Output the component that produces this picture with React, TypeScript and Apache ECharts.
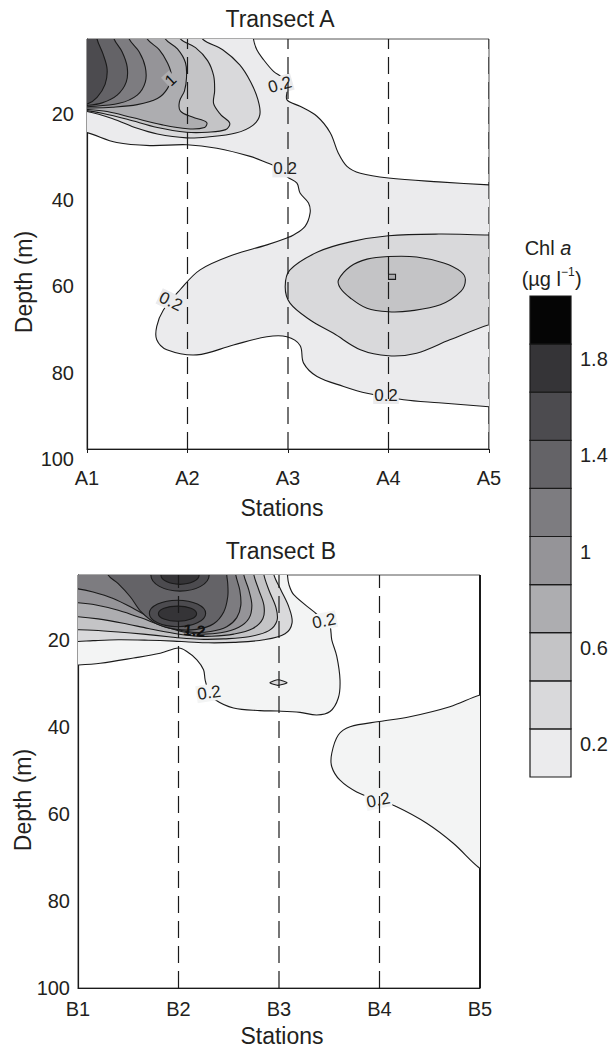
import React, { useEffect, useRef } from 'react';
import * as echarts from 'echarts';

// ---------- data ----------
const stationsA = ['A1', 'A2', 'A3', 'A4', 'A5'];
const stationsB = ['B1', 'B2', 'B3', 'B4', 'B5'];
const depthTicks = [20, 40, 60, 80, 100];
const depthMin = 5;
const depthMax = 100;
const levels = [0.2, 0.4, 0.6, 0.8, 1.0, 1.2, 1.4, 1.6, 1.8, 2.0];
const levelColors = ['#ebebed', '#d9d9db', '#c4c4c6', '#adadb0', '#959498', '#7d7c80', '#646367', '#4c4b4f', '#353437', '#050505'];
const levelColorsB = ['#f3f4f4', '#d9d9db', '#c4c4c6', '#adadb0', '#959498', '#7d7c80', '#646367', '#4c4b4f', '#353437', '#050505'];
const colorbarLabels = [0.2, 0.6, 1, 1.4, 1.8];
const dashedStationsA = [1, 2, 3, 4];
const dashedStationsB = [1, 2, 3];

// Transect A contour boundaries, points are [station index, depth (m)]
const A_c02 = [[-0.1,3],[1.656,3],[1.656,5],[1.69,7.5],[1.757,9.8],[1.856,12.5],[1.955,14.2],[1.99,16.8],[1.99,19.1],[2.12,20.6],[2.288,22.9],[2.42,26.7],[2.5,31.4],[2.587,34.5],[2.72,36.1],[3.0,37.2],[3.5,38.1],[4.0,38.8],[4.1,38.9],[4.1,90.3],[4.0,90.2],[3.5,89.3],[3.15,88.6],[2.786,87.1],[2.553,85.5],[2.289,83.2],[2.155,80.1],[2.12,76.0],[1.989,74.0],[1.79,74.0],[1.457,75.9],[1.093,78.2],[0.794,77.0],[0.694,74.7],[0.694,71.6],[0.76,67.8],[0.926,63.1],[1.125,58.5],[1.457,55.0],[1.79,52.7],[1.989,51.1],[2.055,50.4],[2.17,48.4],[2.22,45.3],[2.204,43.0],[2.12,40.7],[2.089,38.4],[1.989,36.9],[1.95,35.3],[1.79,33.7],[1.624,32.2],[1.292,30.3],[0.993,29.5],[0.627,29.7],[0.296,29.0],[0,26.7],[-0.1,26.5]];
const A_top04 = [[-0.1,3],[1.15,3],[1.15,5],[1.35,7.5],[1.52,11],[1.63,15],[1.7,19],[1.72,22.5],[1.65,25],[1.48,26.8],[1.2,27.7],[0.99,27.9],[0.7,27.0],[0.5,25.7],[0.25,23.4],[0,21.8],[-0.1,21.8]];
const A_blob04 = [[4.1,50.3],[4.0,50.4],[3.5,50.2],[3.0,50.6],[2.62,52.0],[2.3,54.3],[2.02,58.5],[1.972,62.4],[2.02,66.2],[2.22,70.1],[2.453,73.2],[2.72,77.0],[3.0,78.4],[3.28,77.8],[3.61,74.7],[4.0,71.2],[4.1,71.0]];
const A_top06 = [[-0.1,3],[0.93,3],[0.93,5],[1.08,7],[1.2,10],[1.26,13.5],[1.27,17],[1.26,20],[1.33,22.5],[1.42,24.5],[1.38,26],[1.2,26.6],[0.99,26.6],[0.7,25.5],[0.4,23.6],[0.15,22.2],[0,21.6],[-0.1,21.6]];
const A_blob06 = [[2.503,60.8],[2.62,57.7],[2.786,56.0],[3.0,55.4],[3.28,55.5],[3.55,56.9],[3.72,58.9],[3.765,60.8],[3.72,63.5],[3.516,66.6],[3.217,68.0],[3.0,68.2],[2.786,67.4],[2.62,65.0],[2.52,62.7]];
const A_top08 = [[-0.1,3],[0.78,3],[0.78,5],[0.9,7.3],[0.98,10.5],[0.99,14],[0.97,17],[0.92,19.5],[0.93,21.7],[1.05,23.1],[1.19,24.3],[1.17,25.5],[1.0,25.8],[0.75,24.9],[0.45,23.2],[0.2,21.8],[0,21.3],[-0.1,21.3]];
const A_blob08 = [[3.0,59.5],[3.07,59.5],[3.07,60.7],[3.0,60.7]];
const A_top10 = [[-0.1,3],[0.6,3],[0.6,5],[0.72,7.5],[0.8,10.5],[0.84,13.5],[0.8,16.5],[0.7,18.8],[0.5,20.2],[0.25,20.8],[0,21.0],[-0.1,21.0]];
const A_top12 = [[-0.1,3],[0.42,3],[0.42,5],[0.52,8],[0.58,11.5],[0.58,15],[0.5,18],[0.32,19.9],[0,20.7],[-0.1,20.7]];
const A_top14 = [[-0.1,3],[0.27,3],[0.27,5],[0.35,8],[0.4,11.5],[0.39,15],[0.3,18],[0.15,19.8],[0,20.4],[-0.1,20.4]];
const A_top16 = [[-0.1,3],[0.1,3],[0.1,5],[0.16,8.5],[0.2,12],[0.18,15.5],[0.1,18.5],[0,20.1],[-0.1,20.1]];

// Transect B contour boundaries
const B_c02 = [[-0.1,3],[2.084,3],[2.084,5],[2.1,7.3],[2.149,9.6],[2.35,13.5],[2.465,15.8],[2.508,16.8],[2.525,19.9],[2.575,23.7],[2.607,29.1],[2.59,33.3],[2.508,36.4],[2.376,37.2],[2.21,36.6],[1.994,36.3],[1.81,36.2],[1.547,35.6],[1.365,33.7],[1.3,31.8],[1.265,29.1],[1.249,26.8],[1.183,24.5],[1.083,22.6],[1.0,21.8],[0.818,23.0],[0.553,24.1],[0.222,25.3],[0,25.7],[-0.1,25.7]];
const B_c02east = [[4.1,32.4],[4.0,32.6],[3.7,35.3],[3.302,37.6],[2.998,38.7],[2.707,39.9],[2.59,41.8],[2.525,46.0],[2.525,49.1],[2.607,52.2],[2.773,54.9],[2.988,56.8],[3.171,58.3],[3.47,62.1],[3.734,66.7],[4.0,72.5],[4.1,73.2]];
const B_lens04 = [[1.91,29.8],[1.99,29.1],[2.08,29.8],[1.99,30.4]];
const B_04 = [[-0.1,3],[1.95,3],[1.95,5],[2.02,8.5],[2.1,12.5],[2.13,16.0],[2.06,18.5],[1.85,19.9],[1.55,20.5],[1.3,20.6],[1.1,20.4],[0.95,20.2],[0.7,20.0],[0.4,19.9],[0.15,20.1],[0,20.3],[-0.1,20.3]];
const B_06 = [[-0.1,3],[1.85,3],[1.85,5],[1.9,8.5],[1.97,12.5],[1.98,15.5],[1.9,17.8],[1.7,19.2],[1.45,19.7],[1.25,19.8],[1.08,19.6],[0.9,19.2],[0.65,18.6],[0.4,18.1],[0.15,17.7],[0,17.6],[-0.1,17.6]];
const B_08 = [[-0.1,3],[1.75,3],[1.75,5],[1.8,8.5],[1.85,12.0],[1.84,15.0],[1.74,17.3],[1.55,18.6],[1.33,19.1],[1.15,19.0],[0.95,18.4],[0.7,17.3],[0.45,16.1],[0.2,15.1],[0,14.6],[-0.1,14.6]];
const B_10 = [[-0.1,3],[1.65,3],[1.65,5],[1.7,8.5],[1.73,12],[1.7,15],[1.6,17.0],[1.42,18.3],[1.22,18.6],[1.05,18.1],[0.85,16.8],[0.62,14.8],[0.4,13.1],[0.18,11.9],[0,11.4],[-0.1,11.4]];
const B_12 = [[-0.1,3],[1.57,3],[1.57,5],[1.61,8.5],[1.62,12],[1.58,14.8],[1.48,16.9],[1.32,18.0],[1.15,18.2],[0.98,17.5],[0.78,15.6],[0.56,12.8],[0.35,10.4],[0.15,8.9],[0,8.2],[-0.1,8.2]];
const B_14 = [[0.3,3],[0.3,5],[0.4,7.0],[0.52,10.0],[0.63,13.5],[0.78,16.2],[0.98,17.5],[1.18,17.5],[1.35,16.2],[1.45,13.5],[1.49,10],[1.49,7],[1.48,5],[1.48,3]];
// ellipses: [centre station, centre depth, radius (stations), radius (m)]
const B_ring16 = [0.99, 13.85, 0.28, 3.05];
const B_cap16 = [1.015, 5, 0.29, 3.7];
const B_core18 = [0.99, 13.9, 0.19, 1.75];
const B_cap18 = [1.015, 5, 0.19, 2.15];

const regionsA = [
  { level: 0, pts: A_c02 },
  { level: 1, pts: A_top04 }, { level: 1, pts: A_blob04 },
  { level: 2, pts: A_top06 }, { level: 2, pts: A_blob06 },
  { level: 3, pts: A_top08 }, { level: 3, pts: A_blob08, smooth: 0 },
  { level: 4, pts: A_top10 }, { level: 5, pts: A_top12 },
  { level: 6, pts: A_top14 }, { level: 7, pts: A_top16 },
];
const regionsB = [
  { level: 0, pts: B_c02 }, { level: 0, pts: B_c02east },
  { level: 1, pts: B_lens04, smooth: 0.2 },
  { level: 1, pts: B_04 }, { level: 2, pts: B_06 }, { level: 3, pts: B_08 },
  { level: 4, pts: B_10 }, { level: 5, pts: B_12 }, { level: 6, pts: B_14 },
  { level: 7, ellipse: B_ring16 }, { level: 7, ellipse: B_cap16 },
  { level: 8, ellipse: B_core18 }, { level: 8, ellipse: B_cap18 },
];

const labelsA = [
  { t: '0.2', s: 1.92, d: 15.6, rot: 0.28, bg: 0 },
  { t: '0.2', s: 1.972, d: 35.1, rot: 0, bg: 0 },
  { t: '0.2', s: 0.833, d: 65.8, rot: -0.45, bg: 0 },
  { t: '0.2', s: 2.975, d: 87.6, rot: 0, bg: 0 },
  { t: '1', s: 0.83, d: 14.5, rot: 0.75, bg: 3 },
];
const labelsB = [
  { t: '0.2', s: 2.448, d: 15.6, rot: 0.2, bg: 0 },
  { t: '0.2', s: 1.305, d: 32.1, rot: 0.15, bg: 0 },
  { t: '0.2', s: 2.988, d: 56.8, rot: 0.2, bg: 0 },
  { t: '1.2', s: 1.157, d: 17.8, rot: -0.1, bg: -1 },
];

// ---------- chart ----------
const FONT = '"Liberation Sans", Arial, Helvetica, sans-serif';
const INK = '#231f20';
const LINE = '#1a1a1a';

function contourSeries(regions: any[], palette: string[], idx: number) {
  return {
    type: 'custom',
    xAxisIndex: idx,
    yAxisIndex: idx,
    clip: true,
    z: 2,
    silent: true,
    data: regions.map(() => [2, 50]),
    renderItem: (params: any, api: any) => {
      const r = regions[params.dataIndex];
      const style = { fill: palette[r.level], stroke: LINE, lineWidth: 1.1 };
      if (r.ellipse) {
        const [cs, cd, rs, rd] = r.ellipse;
        const c = api.coord([cs, cd]);
        const sz = api.size([rs, rd]);
        return { type: 'ellipse', shape: { cx: c[0], cy: c[1], rx: Math.abs(sz[0]), ry: Math.abs(sz[1]) }, style };
      }
      return {
        type: 'polygon',
        shape: { points: r.pts.map((p: number[]) => api.coord(p)), smooth: r.smooth ?? 0.35 },
        style,
      };
    },
  };
}

function labelSeries(labels: any[], palette: string[], idx: number) {
  return {
    type: 'custom',
    xAxisIndex: idx,
    yAxisIndex: idx,
    clip: true,
    z: 3,
    silent: true,
    data: labels.map(() => [2, 50]),
    renderItem: (params: any, api: any) => {
      const l = labels[params.dataIndex];
      const p = api.coord([l.s, l.d]);
      return {
        type: 'text',
        x: p[0],
        y: p[1],
        rotation: l.rot,
        style: {
          text: l.t,
          fontSize: l.t === '0.2' ? 17 : 16,
          fontFamily: FONT,
          fontWeight: l.t === '1.2' ? 'bold' : 'normal',
          fill: l.t === '0.2' ? INK : '#111',
          align: 'center',
          verticalAlign: 'middle',
          backgroundColor: l.bg >= 0 ? palette[l.bg] : 'transparent',
          padding: [0, 1],
        },
      };
    },
  };
}

function dashedSeries(stations: number[], idx: number) {
  return {
    type: 'custom',
    xAxisIndex: idx,
    yAxisIndex: idx,
    clip: true,
    z: 4,
    silent: true,
    data: stations.map(() => [2, 50]),
    renderItem: (params: any, api: any) => {
      const s = stations[params.dataIndex];
      const p0 = api.coord([s, depthMax]);
      const p1 = api.coord([s, depthMin]);
      return {
        type: 'line',
        shape: { x1: p0[0], y1: p0[1], x2: p1[0], y2: p1[1] },
        style: { stroke: LINE, lineWidth: 1.2, lineDash: [17, 8] },
      };
    },
  };
}

function makeXAxis(idx: number, names: string[], margin: number, ticks: boolean) {
  return {
    type: 'value',
    gridIndex: idx,
    min: 0,
    max: 4,
    interval: 1,
    axisLine: { show: true, lineStyle: { color: LINE, width: 1.2 } },
    axisTick: { show: ticks, length: 4, lineStyle: { color: LINE } },
    axisLabel: {
      formatter: (v: number) => names[Math.round(v)] ?? '',
      fontSize: 20,
      fontFamily: FONT,
      color: INK,
      margin,
      verticalAlign: 'top',
    },
    splitLine: { show: false },
  };
}

function makeYAxis(idx: number, margin: number, vAlign: string) {
  return {
    type: 'value',
    gridIndex: idx,
    inverse: true,
    min: depthMin,
    max: depthMax,
    axisLine: { show: true, lineStyle: { color: LINE, width: 1.2 } },
    axisTick: { show: false },
    axisLabel: {
      customValues: depthTicks,
      fontSize: 20,
      fontFamily: FONT,
      color: INK,
      margin,
      verticalAlign: vAlign,
    },
    splitLine: { show: false },
  };
}

function textEl(text: string, x: number, y: number, fontSize: number, extra: any = {}) {
  return {
    type: 'text',
    x,
    y,
    ...extra,
    style: { text, fontSize, fontFamily: FONT, fill: INK, align: 'center', verticalAlign: 'middle', ...(extra.style || {}) },
  };
}

function colorbarGraphics() {
  const cbX = 530, cbTop = 296, cbW = 41, cbH = 48.1;
  const n = levels.length;
  const els: any[] = [];
  levels.forEach((lv, i) => {
    els.push({
      type: 'rect',
      shape: { x: cbX, y: cbTop + (n - 1 - i) * cbH, width: cbW, height: cbH },
      style: { fill: levelColors[i], stroke: LINE, lineWidth: 1.2 },
    });
  });
  colorbarLabels.forEach((v) => {
    const i = levels.findIndex((l) => Math.abs(l - v) < 1e-9);
    const cy = cbTop + (n - 1 - i) * cbH + cbH / 2 - 9;
    els.push(textEl(String(v), 580, cy, 20, { style: { align: 'left' } }));
  });
  els.push({
    type: 'text',
    x: 548,
    y: 248,
    style: {
      text: '{n|Chl }{i|a}',
      align: 'center',
      verticalAlign: 'middle',
      fill: INK,
      rich: {
        n: { fontSize: 20, fontFamily: FONT, fill: INK },
        i: { fontSize: 20, fontFamily: FONT, fontStyle: 'italic', fill: INK },
      },
    },
  });
  els.push(textEl('(µg l', 561, 279, 20, { style: { align: 'right' } }));
  els.push(textEl('−1', 561, 272, 12, { style: { align: 'left' } }));
  els.push(textEl(')', 575, 279, 20, { style: { align: 'left' } }));
  return els;
}

export default function App() {
  const ref = useRef<HTMLDivElement>(null);
  useEffect(() => {
    if (!ref.current) return;
    const chart = echarts.init(ref.current, undefined, { renderer: 'svg' });
    chart.setOption({
      animation: false,
      backgroundColor: '#ffffff',
      grid: [
        { left: 87, top: 39, width: 402, height: 410, show: true, borderColor: '#555', borderWidth: 1, backgroundColor: 'transparent' },
        { left: 78, top: 575, width: 402, height: 413, show: true, borderColor: '#555', borderWidth: 1, backgroundColor: 'transparent' },
      ],
      xAxis: [makeXAxis(0, stationsA, 19, true), makeXAxis(1, stationsB, 10.5, false)],
      yAxis: [makeYAxis(0, 13, 'top'), makeYAxis(1, 8, 'middle')],
      series: [
        contourSeries(regionsA, levelColors, 0),
        labelSeries(labelsA, levelColors, 0),
        dashedSeries(dashedStationsA, 0),
        contourSeries(regionsB, levelColorsB, 1),
        labelSeries(labelsB, levelColorsB, 1),
        dashedSeries(dashedStationsB, 1),
      ],
      graphic: [
        textEl('Transect A', 280, 19, 23),
        textEl('Transect B', 281, 551, 23),
        textEl('Stations', 282, 507.5, 23),
        textEl('Stations', 282, 1036, 23),
        textEl('Depth (m)', 24, 282, 23, { rotation: Math.PI / 2 }),
        textEl('Depth (m)', 22.5, 800, 23, { rotation: Math.PI / 2 }),
        { type: 'line', shape: { x1: 480, y1: 575, x2: 480, y2: 988 }, style: { stroke: LINE, lineWidth: 2 } },
        ...colorbarGraphics(),
      ],
    });
    return () => chart.dispose();
  }, []);
  return <div ref={ref} style={{ position: 'fixed', left: 0, top: 0, width: 611, height: 1048 }} />;
}
